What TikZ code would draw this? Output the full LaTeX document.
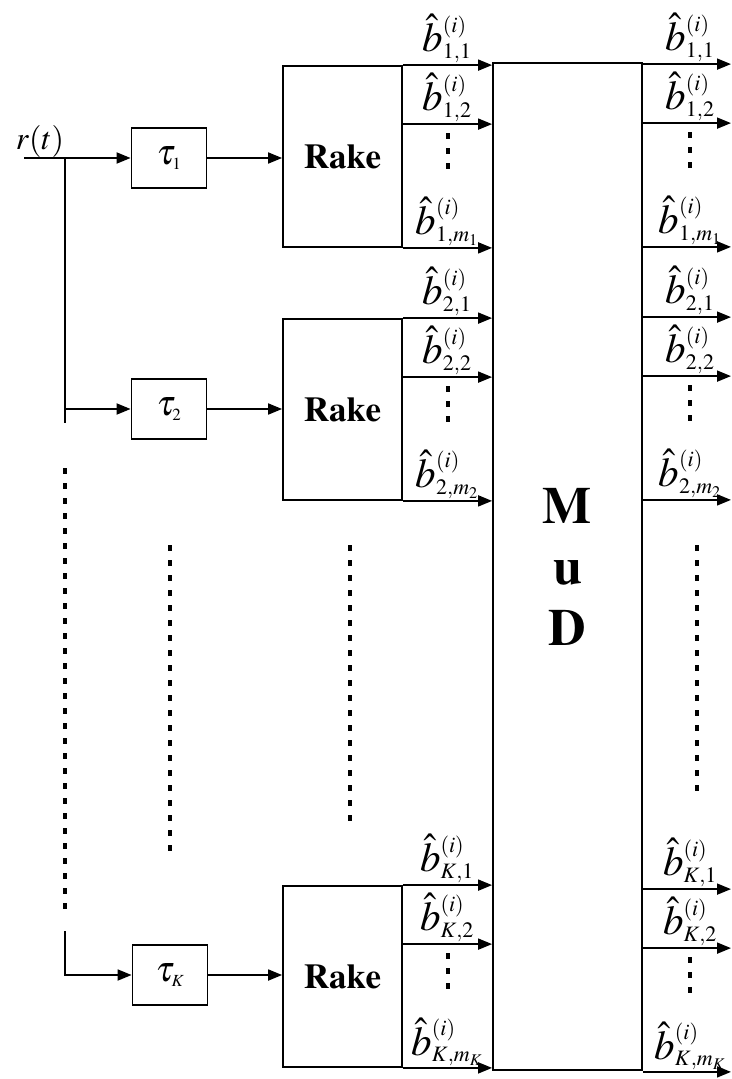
\documentclass[tikz,border=0pt]{standalone}
\usepackage[T1]{fontenc}
\usepackage{mathptmx}
\usetikzlibrary{arrows.meta,calc}
\newcommand{\lblsz}[1]{\mbox{\fontsize{22}{22}\selectfont$#1$}}
\newcommand{\tausz}[1]{\mbox{\fontsize{17}{17}\selectfont$#1$}}

\begin{document}
\begin{tikzpicture}[x=1pt, y=-1pt, line width=1.8pt,
  arr/.style={-{Triangle[length=14pt,width=11pt]}},
  delaybox/.style={draw, minimum width=75pt, minimum height=60pt, inner sep=0pt, font=\fontsize{36}{36}\selectfont},
  rakebox/.style={draw, minimum width=119pt, minimum height=181pt, inner sep=0pt, font=\fontsize{35}{35}\selectfont\bfseries},
  lbl/.style={anchor=south, inner sep=0pt, yshift=1pt, font=\fontsize{41}{41}\selectfont},
  vdots/.style={line width=3.5pt, dash pattern=on 6pt off 9pt}]
  \useasboundingbox (0,0) rectangle (731,1079);

  % input and delays
  \node[font=\fontsize{32}{32}\selectfont] (rt) at (40,141) {$r(t)$};
  \coordinate (in) at (24,158);
  \coordinate (split) at (65,158);
  \node[delaybox] (tau1) at (169,158) {$\tau_{\tausz{1}}$};
  \node[delaybox] (tau2) at (169,409) {$\tau_{\tausz{2}}$};
  \node[delaybox] (tauK) at (170,975) {$\tau_{\tausz{K}}$};

  % rake receivers
  \node[rakebox] (rake1) at (342.5,156.5) {Rake};
  \node[rakebox] (rake2) at (342.5,409.5) {Rake};
  \node[rakebox] (rakeK) at (342.5,976.5) {Rake};

  % multiuser detector
  \node[draw, minimum width=149pt, minimum height=1007pt, inner sep=0pt, align=center,
    font=\fontsize{52}{61}\selectfont\bfseries] (mud) at (567.5,566.5) {M\\u\\D};

  % trunk and branches
  \coordinate (trunk1) at (65,423);
  \coordinate (dot1) at (65,468);
  \coordinate (dot2) at (65,917);
  \coordinate (trunkK) at (65,931);
  \draw[arr] (in) -- (tau1);
  \draw (split) -- (trunk1);
  \draw[arr] (split |- tau2) -- (tau2);
  \draw[vdots] (dot1) -- (dot2);
  \draw[arr] (trunkK) |- (tauK);
  \foreach \row in {1,2,K}
    \draw[arr] (tau\row.east) -- (tau\row.east -| rake\row.west);

  % dots between branches
  \foreach \x/\yb in {170/855, 350/825, 697/795}
    \draw[vdots] (\x,545) -- (\x,\yb);

  % finger outputs
  \coordinate (lcol) at (447,0);
  \coordinate (rcol) at (690,0);
  \coordinate (right) at (731,0);
  \foreach \row/\last/\dy in {1/m_1/-1, 2/m_2/-1, K/m_K/4} {
    \coordinate (l\row a) at (rake\row.north east);
    \coordinate (l\row b) at ($(rake\row.north east)+(0,59)$);
    \coordinate (l\row c) at (rake\row.south east);
    \coordinate (o\row a) at ($(l\row a -| mud.east)+(0,\dy)$);
    \coordinate (o\row b) at ($(l\row b -| mud.east)+(0,\dy)$);
    \coordinate (o\row c) at ($(l\row c -| mud.east)+(0,\dy)$);
    \foreach \p in {a,b,c} {
      \draw[arr] (l\row\p) -- (l\row\p -| mud.west);
      \draw[arr] (o\row\p) -- (o\row\p -| right);
    }
    \node[lbl] (bl\row a) at (l\row a -| lcol) {$\hat{b}^{\lblsz{(i)}}_{\lblsz{\row{,}1}}$};
    \node[lbl] (bl\row b) at (l\row b -| lcol) {$\hat{b}^{\lblsz{(i)}}_{\lblsz{\row{,}2}}$};
    \node[lbl] (bl\row c) at (l\row c -| lcol) {$\hat{b}^{\lblsz{(i)}}_{\lblsz{\row{,}\last}}$};
    \node[lbl] (br\row a) at (o\row a -| rcol) {$\hat{b}^{\lblsz{(i)}}_{\lblsz{\row{,}1}}$};
    \node[lbl] (br\row b) at (o\row b -| rcol) {$\hat{b}^{\lblsz{(i)}}_{\lblsz{\row{,}2}}$};
    \node[lbl] (br\row c) at (o\row c -| rcol) {$\hat{b}^{\lblsz{(i)}}_{\lblsz{\row{,}\last}}$};
    \draw[vdots] ($(l\row b -| lcol)+(1,9)$) -- ($(l\row b -| lcol)+(1,45)$);
    \draw[vdots] ($(o\row b -| rcol)+(0,9)$) -- ($(o\row b -| rcol)+(0,45)$);
  }
\end{tikzpicture}
\end{document}
